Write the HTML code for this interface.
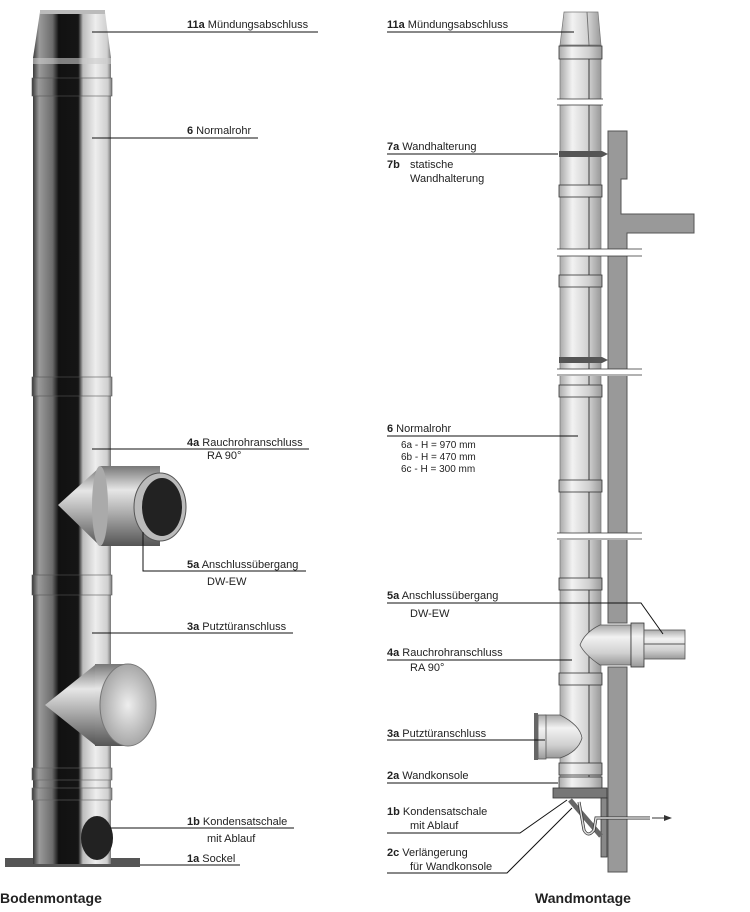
<!DOCTYPE html>
<html><head><meta charset="utf-8"><style>
html,body{margin:0;padding:0;background:#fff}
svg{display:block}
text{font-family:"Liberation Sans",sans-serif;font-size:11px;fill:#222}
.b{font-weight:bold}
</style></head><body>
<svg width="750" height="912" viewBox="0 0 750 912" xmlns="http://www.w3.org/2000/svg">
<defs>
<linearGradient id="chrome" x1="0" x2="1" y1="0" y2="0">
<stop offset="0" stop-color="#3a3a3a"/><stop offset="0.08" stop-color="#9a9a9a"/>
<stop offset="0.25" stop-color="#6c6c6c"/><stop offset="0.33" stop-color="#111"/>
<stop offset="0.58" stop-color="#151515"/><stop offset="0.64" stop-color="#bdbdbd"/>
<stop offset="0.8" stop-color="#eeeeee"/><stop offset="0.95" stop-color="#cfcfcf"/><stop offset="1" stop-color="#777"/>
</linearGradient>
<linearGradient id="conn" x1="0" x2="0" y1="0" y2="1">
<stop offset="0" stop-color="#777"/><stop offset="0.3" stop-color="#e6e6e6"/><stop offset="0.6" stop-color="#aaa"/><stop offset="1" stop-color="#555"/>
</linearGradient>
<radialGradient id="cap" cx="0.5" cy="0.5" r="0.6"><stop offset="0" stop-color="#eee"/><stop offset="1" stop-color="#999"/></radialGradient>
<linearGradient id="gp" x1="0" x2="1" y1="0" y2="0">
<stop offset="0" stop-color="#aaa"/><stop offset="0.3" stop-color="#f2f2f2"/><stop offset="0.7" stop-color="#d0d0d0"/><stop offset="1" stop-color="#999"/>
</linearGradient>
<linearGradient id="gh" x1="0" x2="0" y1="0" y2="1">
<stop offset="0" stop-color="#aaa"/><stop offset="0.3" stop-color="#f2f2f2"/><stop offset="0.7" stop-color="#d0d0d0"/><stop offset="1" stop-color="#999"/>
</linearGradient>
</defs>

<rect x="5" y="858" width="135" height="9" fill="#555"/>
<rect x="33" y="58" width="78" height="806" fill="url(#chrome)"/>
<polygon points="40,12 105,12 111,58 33,58" fill="url(#chrome)"/>
<rect x="40" y="10" width="65" height="4" fill="#bbb"/>
<rect x="33" y="58" width="78" height="6" fill="#ccc" opacity="0.6"/>
<rect x="32" y="78" width="80" height="18" fill="url(#chrome)" stroke="#555" stroke-width="0.6"/>
<rect x="32" y="377" width="80" height="19" fill="url(#chrome)" stroke="#555" stroke-width="0.6"/>
<rect x="32" y="575" width="80" height="20" fill="url(#chrome)" stroke="#555" stroke-width="0.6"/>
<rect x="32" y="768" width="80" height="12" fill="url(#chrome)" stroke="#666" stroke-width="0.6"/>
<rect x="32" y="788" width="80" height="12" fill="url(#chrome)" stroke="#666" stroke-width="0.6"/>
<ellipse cx="97" cy="838" rx="16" ry="22" fill="#222"/>
<polygon points="58,505 100,467 100,546" fill="url(#conn)"/>
<rect x="100" y="466" width="60" height="80" fill="url(#conn)"/>
<ellipse cx="100" cy="506" rx="8" ry="40" fill="#aaa"/>
<ellipse cx="160" cy="507" rx="26" ry="34" fill="#bbb" stroke="#555"/>
<ellipse cx="162" cy="507" rx="20" ry="29" fill="#222"/>
<polygon points="45,705 95,665 95,745" fill="url(#conn)"/>
<rect x="95" y="664" width="35" height="82" fill="url(#conn)"/>
<ellipse cx="128" cy="705" rx="28" ry="41" fill="url(#cap)" stroke="#777"/>

<g stroke="#111" stroke-width="1" fill="none">
<line x1="92" y1="32" x2="318" y2="32"/>
<line x1="92" y1="138" x2="258" y2="138"/>
<line x1="92" y1="449" x2="309" y2="449"/>
<polyline points="143,532 143,571 306,571"/>
<line x1="92" y1="633" x2="293" y2="633"/>
<line x1="110" y1="828" x2="294" y2="828"/>
<line x1="140" y1="865" x2="240" y2="865"/>
</g>
<text x="187" y="28"><tspan class="b">11a</tspan>  Mündungsabschluss</text>
<text x="187" y="134"><tspan class="b">6</tspan>  Normalrohr</text>
<text x="187" y="446"><tspan class="b">4a</tspan>  Rauchrohranschluss</text>
<text x="207" y="459">RA 90°</text>
<text x="187" y="568"><tspan class="b">5a</tspan>  Anschlussübergang</text>
<text x="207" y="585">DW-EW</text>
<text x="187" y="630"><tspan class="b">3a</tspan>  Putztüranschluss</text>
<text x="187" y="825"><tspan class="b">1b</tspan>  Kondensatschale</text>
<text x="207" y="842">mit Ablauf</text>
<text x="187" y="862"><tspan class="b">1a</tspan>  Sockel</text>
<text x="0" y="903" class="b" style="font-size:14px">Bodenmontage</text>

<path d="M608,131 H627 V179 H621 V214 H694 V233 H627 V623 H608 Z" fill="#999" stroke="#555"/>
<rect x="608" y="667" width="19" height="205" fill="#999" stroke="#555"/>
<rect x="560" y="45" width="41" height="743" fill="url(#gp)" stroke="#777" stroke-width="0.7"/>
<line x1="589" y1="45" x2="589" y2="788" stroke="#555" stroke-width="1.2"/>
<polygon points="564,12 598,12 601,45 560,45" fill="url(#gp)" stroke="#777" stroke-width="0.7"/>
<line x1="587" y1="12" x2="589" y2="45" stroke="#777"/>
<g fill="url(#gp)" stroke="#333" stroke-width="0.8">
<rect x="559" y="46" width="43" height="13"/>
<rect x="559" y="185" width="43" height="12"/>
<rect x="559" y="275" width="43" height="12"/>
<rect x="559" y="385" width="43" height="12"/>
<rect x="559" y="480" width="43" height="12"/>
<rect x="559" y="578" width="43" height="12"/>
<rect x="559" y="673" width="43" height="12"/>
<rect x="559" y="763" width="43" height="12"/>
<rect x="559" y="777" width="43" height="12"/>
</g>
<rect x="559" y="151" width="43" height="6" fill="#555"/>
<polygon points="602,151 608,154 602,157" fill="#555"/>
<rect x="559" y="357" width="43" height="6" fill="#555"/>
<polygon points="602,357 608,360 602,363" fill="#555"/>
<g fill="#fff">
<rect x="555" y="99" width="50" height="6"/>
<rect x="555" y="249" width="90" height="7"/>
<rect x="555" y="369" width="90" height="7"/>
<rect x="555" y="533" width="90" height="7"/>
</g>
<g stroke="#333" stroke-width="0.8">
<line x1="557" y1="99" x2="603" y2="99"/><line x1="557" y1="105" x2="603" y2="105"/>
<line x1="557" y1="249" x2="642" y2="249"/><line x1="557" y1="256" x2="642" y2="256"/>
<line x1="557" y1="369" x2="642" y2="369"/><line x1="557" y1="375" x2="642" y2="375"/>
<line x1="557" y1="533" x2="642" y2="533"/><line x1="557" y1="539" x2="642" y2="539"/>
</g>
<path d="M600,625 H631 V665 H600 Q585,655 580,645 Q585,632 600,625 Z" fill="url(#gh)" stroke="#555" stroke-width="0.8"/>
<rect x="631" y="623" width="13" height="44" fill="url(#gh)" stroke="#333" stroke-width="0.8"/>
<rect x="644" y="630" width="41" height="29" fill="url(#gh)" stroke="#555" stroke-width="0.8"/>
<line x1="644" y1="644" x2="685" y2="644" stroke="#555"/>
<path d="M545,715 H560 Q580,725 582,738 Q578,752 560,758 H545 Z" fill="url(#gh)" stroke="#555" stroke-width="0.8"/>
<rect x="538" y="715" width="8" height="44" fill="url(#gh)" stroke="#555" stroke-width="0.8"/>
<rect x="534" y="713" width="4" height="47" fill="#666"/>
<rect x="553" y="788" width="54" height="10" fill="#777" stroke="#333" stroke-width="0.8"/>
<rect x="601" y="798" width="6" height="59" fill="#888" stroke="#333" stroke-width="0.8"/>
<line x1="570" y1="800" x2="601" y2="836" stroke="#666" stroke-width="5"/>
<path d="M579,802 L584,830 Q588,838 594,830 L596,818 H650" fill="none" stroke="#333" stroke-width="3"/>
<path d="M579,802 L584,830 Q588,838 594,830 L596,818 H650" fill="none" stroke="#ddd" stroke-width="1.5"/>
<line x1="652" y1="818" x2="668" y2="818" stroke="#333"/>
<polygon points="672,818 664,815 664,821" fill="#333"/>

<g stroke="#111" stroke-width="1" fill="none">
<line x1="387" y1="32" x2="574" y2="32"/>
<line x1="387" y1="154" x2="558" y2="154"/>
<line x1="387" y1="436" x2="578" y2="436"/>
<polyline points="387,603 641,603 663,634"/>
<line x1="387" y1="660" x2="572" y2="660"/>
<line x1="387" y1="740" x2="545" y2="740"/>
<line x1="387" y1="783" x2="558" y2="783"/>
<polyline points="387,833 520,833 567,800"/>
<polyline points="387,873 507,873 572,808"/>
</g>
<text x="387" y="28"><tspan class="b">11a</tspan>  Mündungsabschluss</text>
<text x="387" y="150"><tspan class="b">7a</tspan>  Wandhalterung</text>
<text x="387" y="168"><tspan class="b">7b</tspan></text>
<text x="410" y="168">statische</text>
<text x="410" y="182">Wandhalterung</text>
<text x="387" y="432"><tspan class="b">6</tspan>  Normalrohr</text>
<text x="401" y="448" style="font-size:10px">6a - H = 970 mm</text>
<text x="401" y="460" style="font-size:10px">6b - H = 470 mm</text>
<text x="401" y="472" style="font-size:10px">6c - H = 300 mm</text>
<text x="387" y="599"><tspan class="b">5a</tspan>  Anschlussübergang</text>
<text x="410" y="617">DW-EW</text>
<text x="387" y="656"><tspan class="b">4a</tspan>  Rauchrohranschluss</text>
<text x="410" y="671">RA 90°</text>
<text x="387" y="737"><tspan class="b">3a</tspan>  Putztüranschluss</text>
<text x="387" y="779"><tspan class="b">2a</tspan>  Wandkonsole</text>
<text x="387" y="815"><tspan class="b">1b</tspan>  Kondensatschale</text>
<text x="410" y="829">mit Ablauf</text>
<text x="387" y="856"><tspan class="b">2c</tspan>  Verlängerung</text>
<text x="410" y="870">für Wandkonsole</text>
<text x="583" y="903" class="b" style="font-size:14px" text-anchor="middle">Wandmontage</text>
</svg>
</body></html>
